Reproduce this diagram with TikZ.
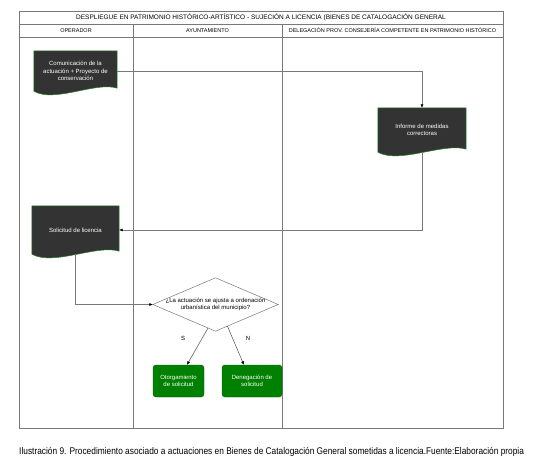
\documentclass[tikz,border=0pt]{standalone}
\usepackage{fontspec}
\setmainfont{Liberation Sans}
\newfontfamily\captionfont[FakeStretch=0.86]{Liberation Sans}
\usetikzlibrary{
    positioning,
    arrows.meta,
    calc,
    backgrounds,
}
\definecolor{docgray}{RGB}{51,51,51}
\definecolor{docedge}{RGB}{30,130,30}
\definecolor{okgreen}{RGB}{0,128,0}
\definecolor{laneline}{RGB}{120,120,120}
\tikzset{
    % Lane styles
    lane/.style={draw=laneline, line width=0.65pt},
    lanehead/.style={font=\fontsize{5.5}{6}\selectfont, inner sep=0pt},
    % Block styles
    docbox/.style={rectangle, minimum width=83pt, minimum height=40pt, align=center,
                   text=white, inner sep=1pt, font=\fontsize{6}{7.5}\selectfont},
    decision/.style={rectangle, minimum width=125pt, minimum height=53pt, align=center,
                     inner sep=0pt, font=\fontsize{6}{7.5}\selectfont},
    result/.style={rectangle, rounded corners=3pt, draw=okgreen!70!black, fill=okgreen,
                   text=white, minimum height=32pt, align=center, inner sep=1pt,
                   font=\fontsize{6}{7.5}\selectfont},
    % Arrow styles
    flow/.style={draw=laneline, line width=0.5pt, -{Latex[length=3.5pt, width=3pt, color=black]}},
    choice/.style={flow, draw=black!70},
    annot/.style={font=\fontsize{6}{7}\selectfont, inner sep=0pt},
}
% document shape behind a node
\newcommand{\docshape}[1]{%
    \begin{scope}[on background layer]
    \filldraw[fill=docgray, draw=docedge, line width=0.5pt]
        (#1.north west) -- (#1.north east) -- ($(#1.south east)+(0,-3)$)
        .. controls ($(#1.south)!0.5!(#1.south east)+(0,-10)$)
        and ($(#1.south west)!0.5!(#1.south)+(0,12)$) .. (#1.south west) -- cycle;
    \end{scope}}

\begin{document}
\begin{tikzpicture}[x=1pt, y=-1pt]
    \useasboundingbox (0,0) rectangle (546,473);

    % Swimlanes
    \draw[lane] (19,11) rectangle (503,428);
    \draw[lane] (19,24) -- (503,24);
    \draw[lane] (19,37) -- (503,37);
    \draw[lane] (133,24) -- (133,428);
    \draw[lane] (282,24) -- (282,428);
    \node[lanehead, font=\fontsize{6.5}{7}\selectfont] (title) at (261,17.5)
        {DESPLIEGUE EN PATRIMONIO HISTÓRICO-ARTÍSTICO - SUJECIÓN A LICENCIA (BIENES DE CATALOGACIÓN GENERAL};
    \node[lanehead] (hdrop) at (76,30.5) {OPERADOR};
    \node[lanehead] (hdray) at (207.5,30.5) {AYUNTAMIENTO};
    \node[lanehead] (hdrdel) at (392.5,30.5) {DELEGACIÓN PROV. CONSEJERÍA COMPETENTE EN PATRIMONIO HISTÓRICO};

    % Documents
    \node[docbox] (comunic) at (75.5,71) {Comunicación de la\\actuación + Proyecto de\\conservación};
    \docshape{comunic}
    \node[docbox, minimum width=88pt, minimum height=44pt] (informe) at (422,130)
        {Informe de medidas\\correctoras};
    \docshape{informe}
    \node[docbox, minimum width=87pt, minimum height=48pt] (solicitud) at (75.5,230)
        {Solicitud de licencia};
    \docshape{solicitud}

    % Decision
    \node[decision] (ajusta) at (215.5,304.5)
        {¿La actuación se ajusta a ordenación\\urbanística del municipio?};
    \draw[draw=laneline, line width=0.5pt, fill=white]
        (ajusta.north) -- (ajusta.east) -- (ajusta.south) -- (ajusta.west) -- cycle;
    \node[decision] at (ajusta) {¿La actuación se ajusta a ordenación\\urbanística del municipio?};

    % Results
    \node[result, minimum width=51pt] (otorga) at (178.5,381) {Otorgamiento\\de solicitud};
    \node[result, minimum width=60pt] (deniega) at (252,381) {Denegación de\\solicitud};

    % Flow
    \draw[flow] (comunic.east) -| (informe.north);
    \draw[flow] (informe.south) |- (solicitud.east);
    \draw[flow] (solicitud.south) |- (ajusta.west);
    \draw[choice] ($(ajusta.south)!0.12!(ajusta.west)$) -- ($(otorga.north)!0.33!(otorga.north east)$);
    \draw[choice] ($(ajusta.south)!0.19!(ajusta.east)$) -- ($(deniega.north)!0.27!(deniega.north west)$);
    \node[annot] (si) at (183,338) {S};
    \node[annot] (no) at (248,338) {N};

    % Caption
    \node[anchor=west, inner sep=0pt, font=\captionfont\fontsize{9.7}{12}\selectfont] (caption) at (19,452)
        {Ilustración 9. Procedimiento asociado a actuaciones en Bienes de Catalogación General sometidas a licencia.Fuente:Elaboración propia};
\end{tikzpicture}
\end{document}
